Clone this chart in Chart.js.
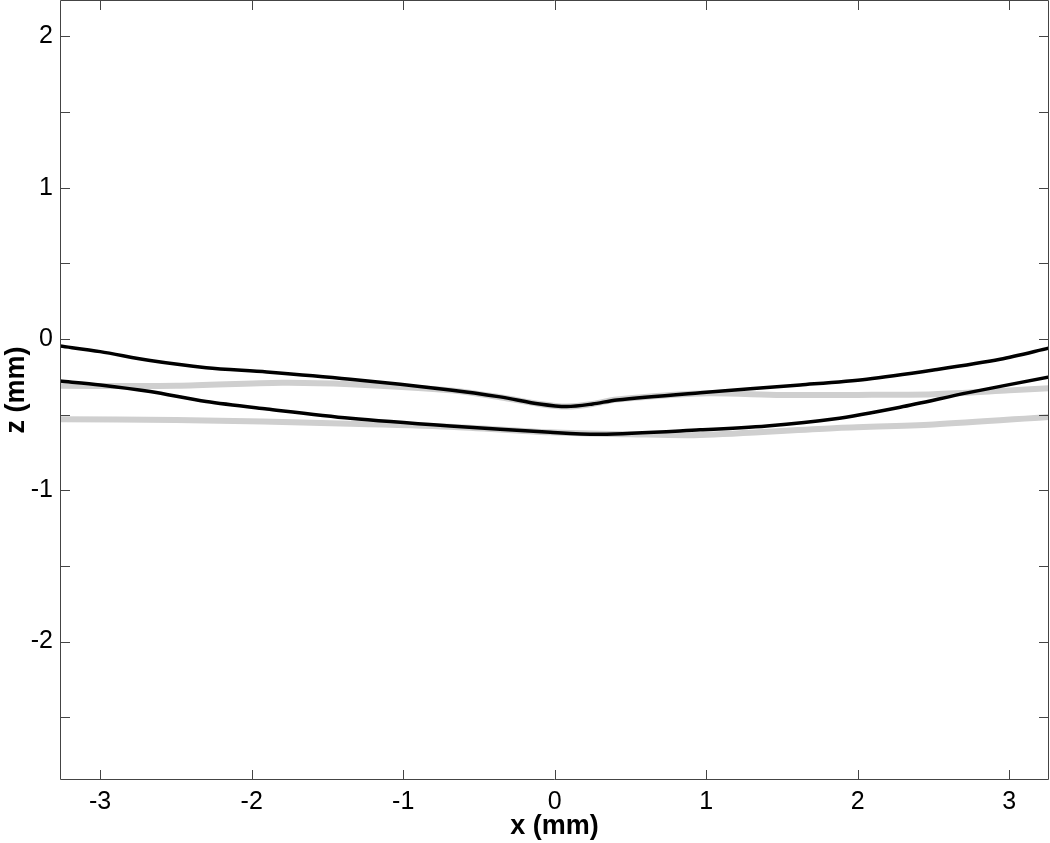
<!DOCTYPE html>
<html>
<head>
<meta charset="utf-8">
<script src="https://cdn.jsdelivr.net/npm/chart.js@4/dist/chart.umd.min.js"></script>
<style>
  html, body { margin: 0; padding: 0; background: #fff; }
  #wrap { width: 1050px; height: 843px; }
</style>
</head>
<body>
<div id="wrap"><canvas id="chart"></canvas></div>
<script>
// curve samples (x in mm, z in mm)
const upperX = [-3.27, -3.0, -2.67, -2.30, -1.90, -1.35, -0.69, -0.36, -0.10, 0.08, 0.25, 0.41, 0.96, 1.62, 2.06, 2.50, 2.94, 3.27];
const upperZ = [-0.046, -0.084, -0.143, -0.19, -0.218, -0.266, -0.337, -0.383, -0.43, -0.447, -0.43, -0.403, -0.355, -0.304, -0.266, -0.205, -0.134, -0.058];

const lowerX = [-3.27, -3.0, -2.67, -2.30, -1.90, -1.35, -0.69, -0.03, 0.30, 0.96, 1.40, 1.84, 2.28, 2.73, 3.27];
const lowerZ = [-0.278, -0.304, -0.348, -0.414, -0.463, -0.524, -0.575, -0.617, -0.630, -0.601, -0.575, -0.529, -0.451, -0.355, -0.250];

const grayUpX = [-3.27, -2.5, -1.8, -1.35, -0.69, -0.36, -0.10, 0.08, 0.25, 0.41, 0.96, 1.5, 2.0, 2.5, 3.0, 3.27];
const grayUpZ = [-0.31, -0.31, -0.29, -0.30, -0.34, -0.385, -0.43, -0.447, -0.43, -0.40, -0.36, -0.37, -0.37, -0.365, -0.34, -0.325];

const grayLoX = [-3.27, -2.5, -1.35, -0.69, -0.03, 0.5, 0.96, 1.84, 2.5, 3.27];
const grayLoZ = [-0.53, -0.535, -0.56, -0.58, -0.617, -0.63, -0.635, -0.59, -0.565, -0.515];

const xTicks = [-3, -2, -1, 0, 1, 2, 3];
const yTicks = [-2.5, -2, -1.5, -1, -0.5, 0, 0.5, 1, 1.5, 2];

function pts(xs, zs) {
  return xs.map((x, i) => ({ x: x, y: zs[i] }));
}

// frame and inward ticks, MATLAB style
const frameTicks = {
  id: 'frameTicks',
  afterDraw(chart) {
    const ctx = chart.ctx;
    const a = chart.chartArea;
    const xs = chart.scales.x, ys = chart.scales.y;
    ctx.save();
    ctx.strokeStyle = '#444';
    ctx.lineWidth = 1;
    ctx.beginPath();
    ctx.rect(a.left + 0.5, a.top + 0.5, a.right - a.left - 1, a.bottom - a.top - 1);
    xTicks.forEach(v => {
      const px = Math.round(xs.getPixelForValue(v)) + 0.5;
      ctx.moveTo(px, a.bottom); ctx.lineTo(px, a.bottom - 10);
      ctx.moveTo(px, a.top); ctx.lineTo(px, a.top + 10);
    });
    yTicks.forEach(v => {
      const py = Math.round(ys.getPixelForValue(v)) + 0.5;
      ctx.moveTo(a.left, py); ctx.lineTo(a.left + 10, py);
      ctx.moveTo(a.right, py); ctx.lineTo(a.right - 10, py);
    });
    ctx.stroke();
    ctx.restore();
  }
};

Chart.defaults.font.family = '"Liberation Sans", Arial, sans-serif';
Chart.defaults.color = '#000';

new Chart(document.getElementById('chart'), {
  type: 'scatter',
  data: {
    datasets: [
      { data: pts(upperX, upperZ), borderColor: '#000', borderWidth: 3.5, order: 1 },
      { data: pts(lowerX, lowerZ), borderColor: '#000', borderWidth: 3.5, order: 1 },
      { data: pts(grayUpX, grayUpZ), borderColor: '#cfcfcf', borderWidth: 6, order: 2 },
      { data: pts(grayLoX, grayLoZ), borderColor: '#cfcfcf', borderWidth: 6, order: 2 }
    ].map(d => Object.assign(d, { showLine: true, pointRadius: 0, tension: 0.3, fill: false }))
  },
  options: {
    responsive: true,
    maintainAspectRatio: false,
    animation: false,
    layout: { padding: { top: 0, right: 1, left: 0, bottom: 0 } },
    plugins: { legend: { display: false }, tooltip: { enabled: false } },
    scales: {
      x: {
        type: 'linear',
        min: -3.265,
        max: 3.262,
        afterBuildTicks: s => { s.ticks = xTicks.map(v => ({ value: v })); },
        afterFit: s => { s.height = 63; s.paddingLeft = 0; s.paddingRight = 0; },
        grid: { display: false, drawTicks: false },
        border: { display: false },
        ticks: { font: { size: 25 }, padding: 7, maxRotation: 0, callback: v => String(v) },
        title: { display: true, text: 'x (mm)', font: { size: 27, weight: 'bold' }, padding: { top: 5, bottom: 0 } }
      },
      y: {
        type: 'linear',
        min: -2.915,
        max: 2.24,
        afterBuildTicks: s => { s.ticks = yTicks.map(v => ({ value: v })); },
        afterFit: s => { s.width = 60; s.paddingTop = 0; s.paddingBottom = 0; },
        grid: { display: false, drawTicks: false },
        border: { display: false },
        ticks: { font: { size: 25 }, padding: 7, callback: v => Number.isInteger(v) ? String(v) : '' },
        title: { display: true, text: 'z (mm)', font: { size: 27, weight: 'bold' }, padding: { top: 0, bottom: 0 } }
      }
    }
  },
  plugins: [frameTicks]
});
</script>
</body>
</html>
